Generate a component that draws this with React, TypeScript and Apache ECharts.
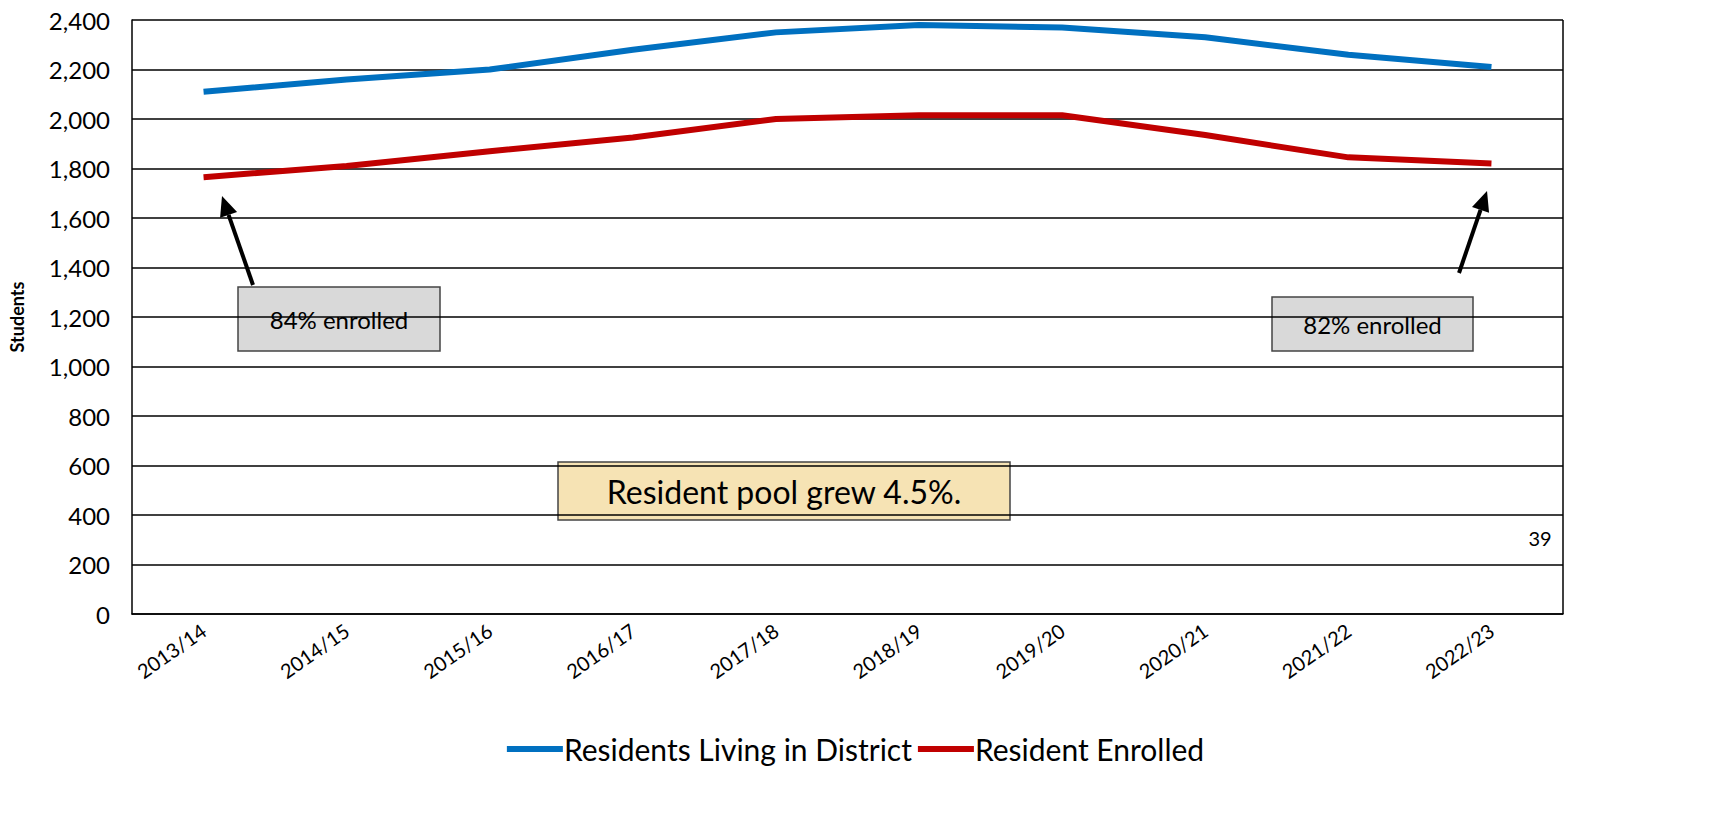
import { useEffect, useRef } from "react";
import * as echarts from "echarts";

const years = ["2013/14", "2014/15", "2015/16", "2016/17", "2017/18", "2018/19", "2019/20", "2020/21", "2021/22", "2022/23"];
const residents = [2110, 2160, 2200, 2280, 2350, 2380, 2370, 2330, 2260, 2210];
const enrolled = [1765, 1810, 1870, 1925, 2000, 2015, 2015, 1935, 1845, 1820];

const FONT = "Lato, 'DejaVu Sans', sans-serif";

function arrow(x1: number, y1: number, x2: number, y2: number) {
  const a = Math.atan2(y2 - y1, x2 - x1);
  const L = 20, W = 9;
  const bx = x2 - L * Math.cos(a), by = y2 - L * Math.sin(a);
  const px = -Math.sin(a) * W, py = Math.cos(a) * W;
  return [
    { type: "line", shape: { x1, y1, x2: bx, y2: by }, style: { stroke: "#000", lineWidth: 4 } },
    { type: "polygon", shape: { points: [[x2, y2], [bx + px, by + py], [bx - px, by - py]] }, style: { fill: "#000" } },
  ];
}

function box(x: number, y: number, w: number, h: number, fill: string, text: string, size: number) {
  return [
    { type: "rect", shape: { x, y, width: w, height: h }, style: { fill, stroke: "#444", lineWidth: 1.5 } },
    { type: "text", x: x + w / 2, y: y + h / 2, style: { text, fill: "#000", font: `${size}px ${FONT}`, align: "center", verticalAlign: "middle" } },
  ];
}

export default function App() {
  const ref = useRef<HTMLDivElement>(null);
  useEffect(() => {
    document.body.style.margin = "0";
    const chart = echarts.init(ref.current!, undefined, { renderer: "svg" });
    chart.setOption({
      animation: false,
      grid: { left: 130, right: 148, top: 20, bottom: 225 },
      xAxis: {
        type: "category",
        data: years,
        axisLine: { lineStyle: { color: "#000", width: 1.5 } },
        axisTick: { show: false },
        axisLabel: { rotate: 35, color: "#000", fontSize: 20, fontFamily: FONT, margin: 14, interval: 0 },
      },
      yAxis: {
        type: "value",
        min: 0,
        max: 2400,
        interval: 200,
        name: "Students",
        nameLocation: "middle",
        nameGap: 106,
        nameTextStyle: { fontSize: 18, fontWeight: "bold", color: "#000", fontFamily: FONT },
        axisLine: { show: true, lineStyle: { color: "#000", width: 1.5 } },
        axisTick: { show: false },
        axisLabel: { color: "#000", fontSize: 24, fontFamily: FONT, margin: 22, formatter: (v: number) => v.toLocaleString("en-US") },
        splitLine: { lineStyle: { color: "#000", width: 1.5 } },
      },
      legend: {
        bottom: 70,
        left: "center",
        itemWidth: 56,
        itemHeight: 6,
        itemGap: 6,
        icon: "rect",
        textStyle: { fontSize: 30, color: "#000", fontFamily: FONT, padding: [0, 0, 0, -4] },
        data: ["Residents Living in District", "Resident Enrolled"],
      },
      series: [
        { name: "Residents Living in District", type: "line", data: residents, symbol: "none", lineStyle: { width: 6, color: "#0070c0" }, itemStyle: { color: "#0070c0" } },
        { name: "Resident Enrolled", type: "line", data: enrolled, symbol: "none", lineStyle: { width: 6, color: "#c00000" }, itemStyle: { color: "#c00000" } },
      ],
      graphic: [
        { type: "line", shape: { x1: 1563, y1: 20, x2: 1563, y2: 614 }, style: { stroke: "#000", lineWidth: 1.5 } },
        ...arrow(253, 285, 222, 196),
        ...arrow(1459, 273, 1487, 191),
        ...box(238, 287, 202, 64, "#d9d9d9", "84% enrolled", 24),
        ...box(1272, 297, 201, 54, "#d9d9d9", "82% enrolled", 24),
        ...box(558, 462, 452, 58, "#f6e3b4", "Resident pool grew 4.5%.", 32),
        { type: "text", x: 1540, y: 538, style: { text: "39", fill: "#000", font: `20px ${FONT}`, align: "center", verticalAlign: "middle" } },
      ],
    });
    return () => chart.dispose();
  }, []);
  return <div ref={ref} style={{ width: 1711, height: 839 }} />;
}
